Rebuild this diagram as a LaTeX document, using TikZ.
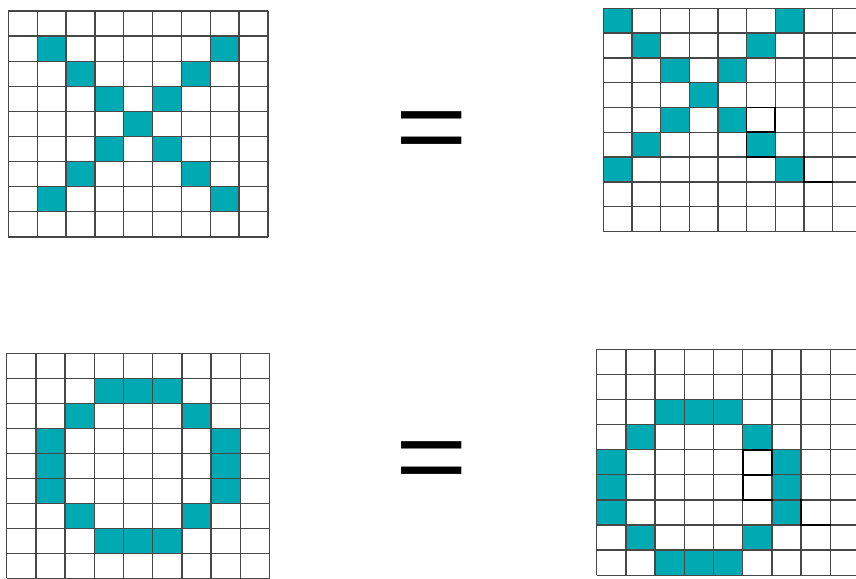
\documentclass[tikz,border=0pt]{standalone}
\usepackage{fontspec}
\setmainfont{Liberation Sans}
\definecolor{tealfill}{RGB}{0,170,178}
\tikzset{
  cellfill/.style={fill=tealfill},
  gridline/.style={draw=black!72, line width=1.3pt},
  markline/.style={draw=black, line width=1.7pt, line cap=rect},
  eqsign/.style={font=\fontsize{124}{124}\selectfont, inner sep=0pt, text=black, yscale=0.82}
}
\newcommand\cellgrid[5]{%
  \begin{scope}[shift={(#1,#2)}, x=#3pt, y=-#4pt]
    \foreach \c/\r in {#5} \fill[cellfill] (\c,\r) rectangle ++(1,1);
    \foreach \i in {0,...,9} {\draw[gridline] (\i,0) -- (\i,9); \draw[gridline] (0,\i) -- (9,\i);}
  \end{scope}}
\newcommand\markpath[4]{%
  \begin{scope}[shift={(#1,#2)}, x=#3pt, y=-#4pt]
    \draw[markline] (5,4) rectangle (6,5);
    \draw[markline] (5,5) -- (5,6) -- (6,6);
    \draw[markline] (7,6) -- (7,7) -- (8,7);
  \end{scope}}
\begin{document}
\begin{tikzpicture}[x=1pt, y=-1pt]
\useasboundingbox (0,0) rectangle (856,578);
% top-left X
\cellgrid{8.3}{11}{28.85}{25.1}{1/1,7/1,2/2,6/2,3/3,5/3,4/4,3/5,5/5,2/6,6/6,1/7,7/7}
% top-right X (shifted)
\cellgrid{603.3}{8.3}{28.65}{24.8}{0/0,6/0,1/1,5/1,2/2,4/2,3/3,2/4,4/4,1/5,5/5,0/6,6/6}
\markpath{603.3}{8.3}{28.65}{24.8}
% bottom-left O
\cellgrid{6.7}{353.3}{29.2}{25}{3/1,4/1,5/1,2/2,6/2,1/3,1/4,1/5,7/3,7/4,7/5,2/6,6/6,3/7,4/7,5/7}
% bottom-right O (shifted)
\cellgrid{596.7}{349.3}{29.2}{25.1}{2/2,3/2,4/2,1/3,5/3,0/4,0/5,0/6,6/4,6/5,6/6,1/7,5/7,2/8,3/8,4/8}
\markpath{596.7}{349.3}{29.2}{25.1}
% equals signs
\node[eqsign] (eqa) at (432,136.5) {=};
\node[eqsign] (eqb) at (432,466.3) {=};
\end{tikzpicture}
\end{document}
